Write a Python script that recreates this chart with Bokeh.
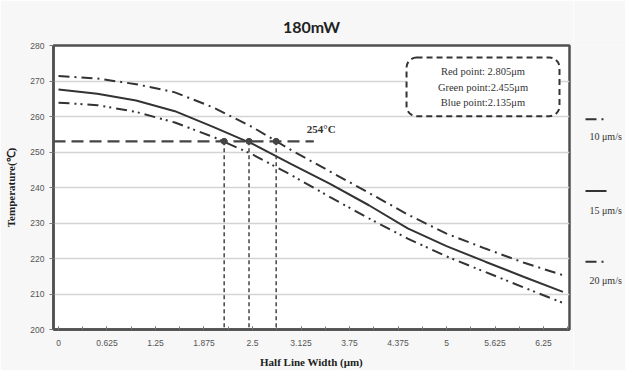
from bokeh.plotting import figure
from bokeh.layouts import row
from bokeh.models import Range1d, FixedTicker, Label, BoxAnnotation, ColumnDataSource
from bokeh.core.properties import value
from bokeh.embed import file_html
from bokeh.resources import INLINE

# ---- data ----
half_width = [0, 0.5, 1.0, 1.5, 2.0, 2.5, 3.0, 3.5, 4.0, 4.5, 5.0, 5.5, 6.0, 6.5]
temp_10 = [271.4, 270.7, 269.1, 266.8, 262.5, 257.0, 250.5, 244.5, 238.5, 232.4, 227.0, 222.8, 218.8, 215.3]
temp_15 = [267.6, 266.4, 264.5, 261.5, 257.0, 252.3, 246.6, 241.0, 235.0, 228.5, 223.5, 219.1, 214.8, 210.6]
temp_20 = [263.9, 263.2, 261.3, 258.3, 254.2, 249.3, 243.5, 237.3, 231.3, 225.6, 220.6, 216.2, 211.8, 207.5]
cross_level = 253.0
cross_x = [2.135, 2.455, 2.805]  # blue, green, red points
cross_line_end = 3.29
x_ticks = [0, 0.625, 1.25, 1.875, 2.5, 3.125, 3.75, 4.375, 5, 5.625, 6.25]
x_tick_labels = ["0", "0.625", "1.25", "1.875", "2.5", "3.125", "3.75", "4.375", "5", "5.625", "6.25"]
y_ticks = [200, 210, 220, 230, 240, 250, 260, 270, 280]
speeds = ["10 \u03bcm/s", "15 \u03bcm/s", "20 \u03bcm/s"]
box_lines = ["Red point: 2.805\u03bcm", "Green point:2.455\u03bcm", "Blue point:2.135\u03bcm"]

BG = "#f7f7f7"
ink = "#333333"
TOP, BOTTOM = 45, 40
X0, X1 = -0.0644, 6.585
p = figure(width=573, height=370, output_backend="svg", toolbar_location=None,
           x_range=Range1d(X0, X1), y_range=Range1d(200, 280),
           min_border_left=53, min_border_right=4, min_border_top=TOP, min_border_bottom=BOTTOM)
p.border_fill_color = BG
p.background_fill_color = "white"
p.outline_line_color = "#505050"
p.outline_line_width = 2.5

p.title.text = "180mW"
p.title.align = "center"
p.title.text_font = "Lato"
p.title.text_font_size = "16px"
p.title.text_font_style = "bold"
p.title.text_color = "#222222"
p.title.standoff = 20

# axes
p.xaxis.ticker = FixedTicker(ticks=x_ticks, minor_ticks=[k * 0.3125 for k in range(22)])
p.xaxis.major_label_overrides = {t: l for t, l in zip(x_ticks, x_tick_labels)}
p.yaxis.ticker = FixedTicker(ticks=y_ticks)
for ax in (p.xaxis, p.yaxis):
    ax.axis_line_color = "#505050"
    ax.axis_line_width = 2.5
    ax.major_tick_line_color = "#777777"
    ax.minor_tick_line_color = "#777777"
    ax.major_label_text_font = "Liberation Sans"
    ax.major_label_text_font_size = "8.5px"
    ax.major_label_text_color = "#555555"
    ax.axis_label_text_font = "Liberation Serif"
    ax.axis_label_text_font_style = "bold"
    ax.axis_label_text_font_size = "11px"
    ax.axis_label_text_color = "#222222"
p.xaxis.major_tick_in = 3
p.xaxis.major_tick_out = 0
p.xaxis.minor_tick_in = 3
p.xaxis.minor_tick_out = 0
p.xaxis.major_label_standoff = 10
p.xaxis.axis_label = "Half Line Width (\u03bcm)"
p.xaxis.axis_label_standoff = 7
p.yaxis.major_tick_in = 0
p.yaxis.major_tick_out = 4
p.yaxis.minor_tick_line_color = None
p.yaxis.major_label_standoff = 5
p.yaxis.axis_label = "Temperature(\u2103)"
p.yaxis.axis_label_standoff = 10

p.xgrid.grid_line_color = None
p.ygrid.grid_line_color = "#d4d4d4"
p.ygrid.grid_line_width = 1.5

src = ColumnDataSource(dict(x=half_width, t10=temp_10, t15=temp_15, t20=temp_20))
dashes = ["11 5 2 5", "solid", "11 5 2 4 2 5"]
p.line("x", "t10", source=src, line_color=ink, line_width=2, line_dash=dashes[0])
p.line("x", "t15", source=src, line_color=ink, line_width=2)
p.line("x", "t20", source=src, line_color=ink, line_width=2, line_dash=dashes[2])

# crossing guide lines
p.line([X0, cross_line_end], [cross_level, cross_level], line_color="#444444", line_width=2.2, line_dash="12 6")
p.segment(x0=cross_x, y0=[cross_level] * 3, x1=cross_x, y1=[200] * 3,
          line_color="#444444", line_width=1.5, line_dash="4 3")
p.scatter(cross_x, [cross_level] * 3, size=6, color="#444444")
p.add_layout(Label(x=3.2, y=256.4, text="254\u00b0C", text_font="Liberation Serif",
                   text_font_style="bold", text_font_size="11px", text_color="#333333",
                   text_baseline="middle"))

# info box
p.add_layout(BoxAnnotation(left=4.485, right=6.456, bottom=260.1, top=276.6,
                           fill_color="white", fill_alpha=1, line_color="#333333", line_alpha=1,
                           line_width=2, line_dash="6 4", border_radius=10))
for yy, txt in zip([272.7, 268.3, 264.0], box_lines):
    p.add_layout(Label(x=5.47, y=yy, text=txt, text_font="Liberation Serif",
                       text_font_size="10.5px", text_color="#333333",
                       text_align="center", text_baseline="middle"))

# legend panel to the right of the frame
lg = figure(width=52, height=370, output_backend="svg", toolbar_location=None,
            x_range=Range1d(0, 52), y_range=Range1d(200, 280),
            x_axis_location=None, y_axis_location=None,
            min_border_left=0, min_border_right=0, min_border_top=TOP, min_border_bottom=BOTTOM)
lg.border_fill_color = BG
lg.background_fill_color = BG
lg.outline_line_color = None
lg.grid.visible = False
for yy_line, yy_txt, dash, lab in zip([259.2, 239.0, 219.1], [254.5, 233.4, 213.8], dashes, speeds):
    lg.line([12, 33], [yy_line, yy_line], line_color=ink, line_width=2, line_dash=dash)
    lg.text(x=[16], y=[yy_txt], text=[lab], text_font=value("Liberation Serif"),
            text_font_size="10px", text_color="#333333", text_baseline="middle")

layout = row(p, lg, spacing=0)
open("out.html", "w").write(file_html(layout, INLINE))
